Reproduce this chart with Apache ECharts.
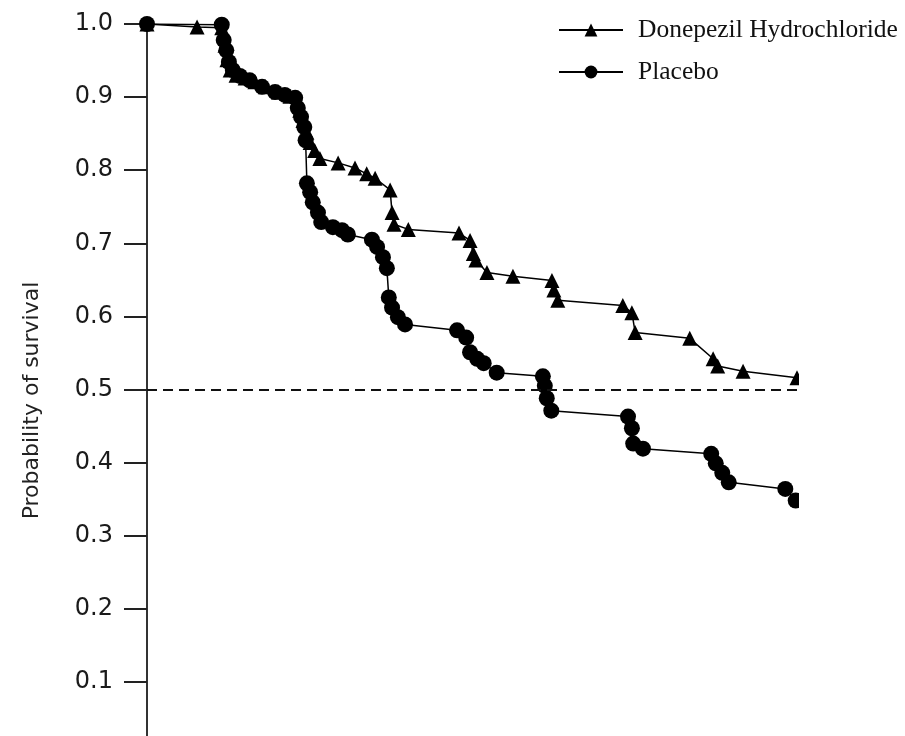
<!DOCTYPE html>
<html>
<head>
<meta charset="utf-8">
<script src="https://cdn.jsdelivr.net/npm/echarts@6/dist/echarts.min.js"></script>
<style>
html,body{margin:0;padding:0;background:#fff;overflow:hidden;}
#chart{width:905px;height:760px;}
</style>
</head>
<body>
<div id="chart"></div>
<script>
// time (arbitrary units, 0..100) and survival probability
const donepezilTime = [0, 7.7, 11.5, 12.0, 12.3, 12.8, 13.7, 15.1, 16.6, 18.2, 20.2, 22.0, 23.1, 23.5, 24.0, 24.6, 25.1, 25.8, 26.6, 29.4, 32.0, 33.8, 35.1, 37.4, 37.7, 38.0, 40.2, 48.0, 49.7, 50.2, 50.6, 52.3, 56.3, 62.3, 62.6, 63.2, 73.2, 74.6, 75.1, 83.5, 87.1, 87.8, 91.7, 100];
const donepezilSurv = [1.0, 0.996, 0.995, 0.971, 0.951, 0.937, 0.930, 0.926, 0.921, 0.914, 0.907, 0.901, 0.896, 0.882, 0.868, 0.852, 0.838, 0.827, 0.816, 0.810, 0.803, 0.795, 0.789, 0.773, 0.742, 0.726, 0.719, 0.714, 0.704, 0.686, 0.677, 0.660, 0.655, 0.649, 0.636, 0.622, 0.615, 0.605, 0.578, 0.570, 0.542, 0.532, 0.525, 0.516];

const placeboTime = [0, 11.5, 11.8, 12.2, 12.6, 13.2, 14.3, 15.8, 17.7, 19.7, 21.2, 22.8, 23.2, 23.7, 24.2, 24.4, 24.6, 25.1, 25.5, 26.3, 26.8, 28.6, 30.0, 30.9, 34.6, 35.4, 36.3, 36.9, 37.2, 37.7, 38.6, 39.7, 47.7, 49.1, 49.7, 50.8, 51.8, 53.8, 60.9, 61.2, 61.5, 62.2, 74.0, 74.6, 74.8, 76.3, 86.8, 87.5, 88.5, 89.5, 98.2, 99.8];
const placeboSurv = [1.0, 0.999, 0.978, 0.964, 0.948, 0.937, 0.929, 0.923, 0.914, 0.907, 0.903, 0.899, 0.885, 0.873, 0.859, 0.841, 0.782, 0.770, 0.756, 0.742, 0.729, 0.722, 0.718, 0.712, 0.705, 0.695, 0.681, 0.666, 0.626, 0.612, 0.599, 0.589, 0.581, 0.571, 0.551, 0.542, 0.536, 0.523, 0.518, 0.505, 0.488, 0.471, 0.463, 0.447, 0.426, 0.419, 0.412, 0.399, 0.386, 0.373, 0.364, 0.348];

const seriesNames = ['Donepezil Hydrochloride', 'Placebo'];
const yAxisName = 'Probability of survival';
const referenceLevel = 0.5;

const zip = (xs, ys) => xs.map((x, i) => [x, ys[i]]);

const chart = echarts.init(document.getElementById('chart'));
chart.setOption({
  animation: false,
  backgroundColor: '#fff',
  grid: {left: 147, right: 108, top: 24, bottom: 5, containLabel: false},
  xAxis: {type: 'value', min: 0, max: 100, show: false},
  yAxis: {
    type: 'value', min: 0, max: 1, interval: 0.1,
    name: yAxisName, nameLocation: 'middle', nameGap: 104,
    nameTextStyle: {fontFamily: 'DejaVu Sans', fontSize: 22, color: '#222', padding: [0, 22, 0, 0]},
    axisLine: {show: true, lineStyle: {color: '#333', width: 2}},
    axisTick: {show: true, length: 23, lineStyle: {color: '#222', width: 2}},
    axisLabel: {
      margin: 34, fontFamily: 'DejaVu Sans', fontSize: 24, color: '#1a1a1a',
      formatter: v => v === 0 ? '' : v.toFixed(1)
    },
    splitLine: {show: false}
  },
  legend: {
    orient: 'vertical', left: 553, top: 11,
    itemWidth: 64, itemHeight: 16, itemGap: 14,
    textStyle: {fontFamily: 'Liberation Serif', fontSize: 25.5, color: '#111', lineHeight: 28, padding: [0, 0, 0, 10]},
    data: seriesNames
  },
  series: [
    {
      name: seriesNames[0], type: 'line', data: zip(donepezilTime, donepezilSurv),
      symbol: 'triangle', symbolSize: 15, showAllSymbol: true,
      lineStyle: {color: '#000', width: 1.5}, itemStyle: {color: '#000'},
      z: 2,
      markLine: {
        silent: true, symbol: 'none', label: {show: false},
        lineStyle: {color: '#111', width: 2, type: [10, 6]},
        data: [{yAxis: referenceLevel}]
      }
    },
    {
      name: seriesNames[1], type: 'line', data: zip(placeboTime, placeboSurv),
      symbol: 'circle', symbolSize: 16, showAllSymbol: true,
      lineStyle: {color: '#000', width: 1.5}, itemStyle: {color: '#000'},
      z: 3
    }
  ],
  graphic: [{
    type: 'rect', left: 799, top: 100, z: 100,
    shape: {width: 106, height: 660},
    style: {fill: '#fff'}
  }]
});
</script>
</body>
</html>
